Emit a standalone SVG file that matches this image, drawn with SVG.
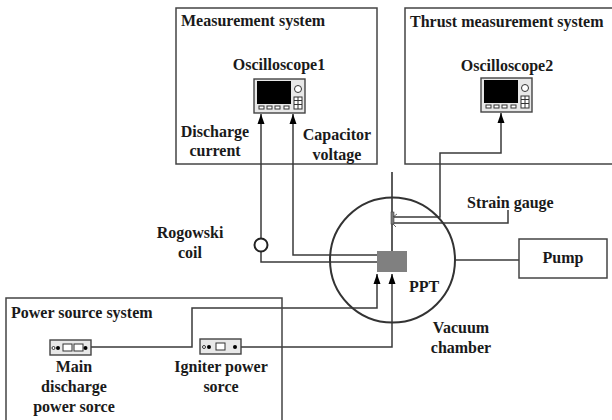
<svg xmlns="http://www.w3.org/2000/svg" width="612" height="420" viewBox="0 0 612 420">
<style>
text{font-family:"Liberation Serif","Times New Roman",serif;font-weight:bold;font-size:16px;fill:#1a1a1a}
.m{text-anchor:middle}
.box{fill:none;stroke:#444;stroke-width:1.5}
.w{fill:none;stroke:#3a3a3a;stroke-width:1.5}
.dev{fill:#e8e8e8;stroke:#444;stroke-width:1.4}
.k{fill:#000}
.o{fill:#fff;stroke:#333;stroke-width:1}
</style>
<defs>
<marker id="a" markerUnits="userSpaceOnUse" markerWidth="10" markerHeight="8" refX="10" refY="4" orient="auto"><path d="M0,0.500L10,4L0,7.500Z" fill="#000"/></marker>
<g id="scope">
<rect x="0" y="0" width="51" height="34" class="dev"/>
<rect x="3" y="2" width="34" height="23" class="k"/>
<circle cx="44" cy="10" r="3.500" class="o"/>
<rect x="40" y="18" width="8" height="12" class="o"/>
<path d="M40,21.500H48M40,25.500H48M44,18V30" stroke="#333" stroke-width="1"/>
<rect x="5" y="27" width="5" height="3" class="o"/><rect x="13" y="27" width="5" height="3" class="o"/><rect x="21" y="27" width="5" height="3" class="o"/><rect x="30" y="27" width="5" height="3" class="o"/>
</g>
</defs>
<g id="measurement-system">
<rect x="176" y="8" width="201" height="156" class="box"/>
<text x="181" y="26">Measurement system</text>
</g>
<g id="thrust-measurement-system">
<path d="M620,8H405V164H620" class="box"/>
<text x="410" y="27">Thrust measurement system</text>
</g>
<g id="oscilloscope1">
<text x="279" y="70" class="m">Oscilloscope1</text>
<use href="#scope" x="254" y="79"/>
</g>
<g id="oscilloscope2">
<text x="507" y="71" class="m">Oscilloscope2</text>
<use href="#scope" x="481" y="78"/>
</g>
<g id="discharge-current">
<text x="215" y="137" class="m">Discharge</text>
<text x="215" y="156" class="m">current</text>
</g>
<g id="capacitor-voltage">
<text x="337" y="140" class="m">Capacitor</text>
<text x="337" y="160" class="m">voltage</text>
</g>
<g id="rogowski-label">
<text x="190" y="238" class="m">Rogowski</text>
<text x="190" y="258" class="m">coil</text>
</g>
<g id="connectors">
<path d="M261,238V114" class="w" marker-end="url(#a)"/>
<path d="M261,252V262H377" class="w"/>
<path d="M377,255H293V114" class="w" marker-end="url(#a)"/>
<path d="M393,223H508V210" class="w"/>
<path d="M393,217H440V153H501V113" class="w" marker-end="url(#a)"/>
<path d="M455,260H519" class="w"/>
<path d="M91,347H192V308H377V274" class="w" marker-end="url(#a)"/>
<path d="M241,347H392V274" class="w" marker-end="url(#a)"/>
<path d="M392,172V251" fill="none" stroke="#333" stroke-width="1.600"/>
</g>
<g id="rogowski-coil"><circle cx="261" cy="245" r="6.500" fill="#fff" stroke="#222" stroke-width="2"/></g>
<g id="vacuum-chamber">
<circle cx="392.500" cy="260" r="62.500" fill="none" stroke="#333" stroke-width="2"/>
<text x="461" y="333" class="m">Vacuum</text>
<text x="461" y="353" class="m">chamber</text>
</g>
<g id="strain-gauge-sensor">
<rect x="391" y="212" width="3" height="12" fill="#777" stroke="#444" stroke-width="0.600"/>
<path d="M393,217L397,214M393,224L396,227" stroke="#444" stroke-width="0.800" fill="none"/>
<text x="467" y="208">Strain gauge</text>
</g>
<g id="ppt">
<rect x="377" y="251" width="30" height="21" fill="#808080"/>
<text x="409" y="292">PPT</text>
</g>
<g id="pump">
<rect x="519" y="239" width="88" height="39" fill="none" stroke="#444" stroke-width="1.500"/>
<text x="563" y="263" class="m">Pump</text>
</g>
<g id="power-source-system">
<path d="M6,425V298H282V425" class="box"/>
<text x="11" y="318">Power source system</text>
</g>
<g id="main-discharge-power-source">
<rect x="50" y="340" width="41" height="15" class="dev"/>
<circle cx="53.500" cy="348" r="1.500" class="o"/><circle cx="58" cy="348" r="2" class="k"/>
<rect x="63" y="344" width="9" height="7" class="o"/><rect x="74" y="344" width="9" height="7" class="o"/>
<circle cx="85.500" cy="348" r="2" class="k"/>
<text x="74" y="372" class="m">Main</text>
<text x="74" y="392" class="m">discharge</text>
<text x="74" y="412" class="m">power sorce</text>
</g>
<g id="igniter-power-source">
<rect x="200" y="339" width="41" height="15" class="dev"/>
<circle cx="204" cy="347" r="1.500" class="o"/><circle cx="209" cy="347" r="2" class="k"/>
<rect x="216" y="343" width="9" height="7" class="o"/>
<circle cx="235" cy="347" r="2" class="k"/>
<text x="221" y="372" class="m">Igniter power</text>
<text x="221" y="392" class="m">sorce</text>
</g>
</svg>
